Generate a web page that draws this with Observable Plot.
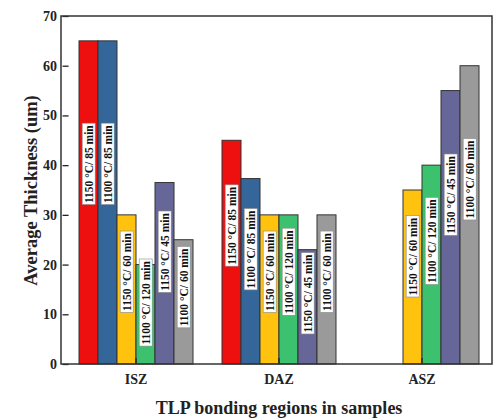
<!DOCTYPE html>
<html><head><meta charset="utf-8">
<script src="https://cdn.jsdelivr.net/npm/d3@7"></script>
<script src="https://cdn.jsdelivr.net/npm/@observablehq/plot@0.6"></script>
<style>
body{margin:0;background:#fff;}
svg{font-family:"Liberation Serif","Times New Roman",serif;}
</style></head><body><div id="chart"></div>
<script>
const regions = ["ISZ", "DAZ", "ASZ"];
const conditions = ["1150 °C/ 85 min", "1100 °C/ 85 min", "1150 °C/ 60 min", "1100 °C/ 120 min", "1150 °C/ 45 min", "1100 °C/ 60 min"];
const colors = ["#ee0f0f", "#356699", "#fec20f", "#3cc26e", "#676699", "#9a9a9a"];
const iszValues = [65, 65, 30, 20, 36.5, 25];
const dazValues = [45, 37.3, 30, 30, 23, 30];
const aszValues = [null, null, 35, 40, 55, 60];
const yTicks = [0, 10, 20, 30, 40, 50, 60, 70];
const xTitle = "TLP bonding regions in samples";
const yTitle = "Average Thickness (um)";

const series = {ISZ: iszValues, DAZ: dazValues, ASZ: aszValues};
const rows = regions.flatMap(r => conditions.map((c, i) => ({region: r, condition: c, value: series[r][i]})))
  .filter(d => d.value != null);

const W = 495, H = 419, mL = 61, mR = 3, mT = 16, mB = 55;
const fxOpts = {paddingInner: 0.194, paddingOuter: 0.094, align: 0.57};
// offset of the first facet from the plot frame's left edge (y axis is drawn in that facet)
const fxBand = d3.scaleBand(regions, [mL, W - mR])
  .paddingInner(fxOpts.paddingInner).paddingOuter(fxOpts.paddingOuter).align(fxOpts.align);
const off = fxBand(regions[0]) - mL;

const chart = Plot.plot({
  width: W, height: H,
  marginLeft: mL, marginRight: mR, marginTop: mT, marginBottom: mB,
  style: {fontFamily: '"Liberation Serif","Times New Roman",serif', fontWeight: "bold", color: "#222", background: "white"},
  fx: {domain: regions, ...fxOpts},
  x: {domain: conditions, padding: 0, axis: null},
  y: {domain: [0, 70]},
  color: {domain: conditions, range: colors},
  marks: [
    Plot.barY(rows, {fx: "region", x: "condition", y: "value", fill: "condition", stroke: "#333", strokeWidth: 1}),
    Plot.text(rows, {fx: "region", x: "condition", y: d => d.value * 0.62, text: "condition", rotate: -90,
      fontSize: 11.5, fontWeight: "bold", fill: "#111"}),
    Plot.axisY({ticks: yTicks, tickSize: 6, dx: 6 - off, tickFormat: () => "", label: null, anchor: "left", strokeWidth: 1.3}),
    Plot.axisY({ticks: yTicks, tickSize: 0, tickPadding: 6, dx: -off, fontSize: 14, label: yTitle,
      labelAnchor: "center", labelOffset: 55, anchor: "left"}),
    Plot.axisFx({anchor: "bottom", tickSize: 6, dy: -6, tickFormat: () => "", label: null, strokeWidth: 1.3}),
    Plot.axisFx({anchor: "bottom", tickSize: 0, tickPadding: 10, fontSize: 14, label: xTitle, labelAnchor: "center", labelOffset: 49})
  ]
});
document.getElementById("chart").appendChild(chart);

const svg = d3.select(chart.tagName.toLowerCase() === "svg" ? chart : chart.querySelector("svg"));
svg.selectAll("text").filter(function() { return this.textContent.includes("Average"); })
  .text(yTitle).attr("font-size", 18.5).style("font-size", "18.5px");
svg.selectAll("text").filter(function() { return this.textContent.includes("TLP"); })
  .text(xTitle).attr("font-size", 18).style("font-size", "18px");
svg.selectAll('g[aria-label="text"] text').each(function() {
  const b = this.getBBox();
  d3.select(this.parentNode).insert("rect", () => this)
    .attr("transform", this.getAttribute("transform"))
    .attr("x", b.x - 1.5).attr("y", b.y - 0.5)
    .attr("width", b.width + 3).attr("height", b.height + 1)
    .attr("fill", "white").attr("stroke", "#888").attr("stroke-width", 0.6);
});
svg.append("rect")
  .attr("x", mL).attr("y", mT)
  .attr("width", W - mL - mR).attr("height", H - mT - mB)
  .attr("fill", "none").attr("stroke", "#333").attr("stroke-width", 1.5);
</script></body></html>
